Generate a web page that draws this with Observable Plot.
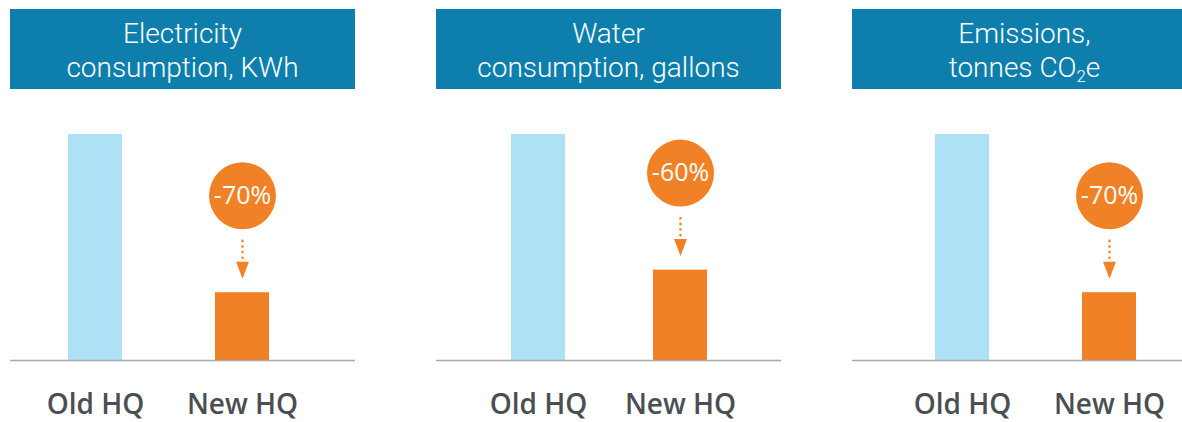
<!DOCTYPE html>
<html>
<head>
<meta charset="utf-8">
<script src="https://cdn.jsdelivr.net/npm/d3@7"></script>
<script src="https://cdn.jsdelivr.net/npm/@observablehq/plot@0.6"></script>
<style>
  html, body { margin: 0; padding: 0; background: #fff; }
  #chart { position: relative; width: 1182px; height: 422px; overflow: hidden; font-family: "Open Sans", sans-serif; }
  .panel { position: absolute; top: 0; width: 345px; height: 422px; }
  .header { position: absolute; top: 9px; left: 0; width: 345px; height: 80px; box-sizing: border-box; padding-top: 3px;
            background: #0e7fad;
            color: #fff; font-family: Roboto, "Open Sans", sans-serif; font-weight: 300; font-size: 28px;
            line-height: 34px; text-align: center;
            display: flex; align-items: center; justify-content: center; }
  .header sub { font-size: 60%; line-height: 0; vertical-align: -0.3em; }
  .plot { position: absolute; top: 89px; left: 0; }
</style>
</head>
<body>
<div id="chart"></div>
<script>
// ---- data ----
const metricTitles = ["Electricity<br>consumption, KWh", "Water<br>consumption, gallons", "Emissions,<br>tonnes CO<sub>2</sub>e"];
const sites = ["Old HQ", "New HQ"];
const oldValues = [100, 100, 100];
const newValues = [30, 40, 30];
const changeLabels = ["-70%", "-60%", "-70%"];

// ---- layout (per panel) ----
const panelLeft = [10, 436, 852];
const panelMargins = [
  {ml: 57, mr: 86, pad: 0.635},
  {ml: 75, mr: 74, pad: 0.62},
  {ml: 82, mr: 61, pad: 0.635}
];

const lightBlue = "#aee0f6";
const orange = "#f18126";
const grey = "#a6a8ab";

// downward-pointing triangle symbol
const triDown = {
  draw(context, size) {
    const r = Math.sqrt(size / Math.PI);
    context.moveTo(-0.76 * r, -r);
    context.lineTo(0.76 * r, -r);
    context.lineTo(0, r);
    context.closePath();
  }
};
// straight line shape for the dotted connector
const lineShape = {
  draw(context, l) {
    context.moveTo(0, 0);
    context.lineTo(0, -l);
  }
};

const chart = document.getElementById("chart");

metricTitles.forEach((title, k) => {
  const panel = document.createElement("div");
  panel.className = "panel";
  panel.style.left = panelLeft[k] + "px";
  const header = document.createElement("div");
  header.className = "header";
  header.innerHTML = "<div>" + title + "</div>";
  panel.appendChild(header);

  const rows = [
    {site: sites[0], value: oldValues[k]},
    {site: sites[1], value: newValues[k]}
  ];
  const newRow = [{site: sites[1], value: newValues[k], label: changeLabels[k]}];
  const m = panelMargins[k];

  const plot = Plot.plot({
    width: 345,
    height: 333,
    marginTop: 45,
    marginBottom: 62,
    marginLeft: m.ml,
    marginRight: m.mr,
    style: {fontFamily: "Open Sans, sans-serif", color: "#4b4e53", background: "transparent", overflow: "visible"},
    x: {domain: sites, paddingInner: m.pad, paddingOuter: 0},
    y: {domain: [0, 100], axis: null},
    marks: [
      Plot.barY(rows, {x: "site", y: "value", fill: (d) => d.site === sites[0] ? lightBlue : orange}),
      Plot.ruleY([0], {stroke: grey, strokeWidth: 1.5, insetLeft: -m.ml, insetRight: -m.mr}),
      Plot.vector(newRow, {x: "site", y: "value", length: 22, rotate: 0, anchor: "start", dy: -35,
        shape: lineShape, stroke: orange, strokeWidth: 2.6, strokeDasharray: "0 5.6", strokeLinecap: "round"}),
      Plot.dot(newRow, {x: "site", y: "value", symbol: triDown, r: 8.5, dy: -22.5, fill: orange, stroke: null}),
      Plot.dot(newRow, {x: "site", y: "value", r: 33.5, dy: -97, fill: orange, stroke: null}),
      Plot.text(newRow, {x: "site", y: "value", text: "label", dy: -97, fill: "#fff", fontSize: 25, fontWeight: 500}),
      Plot.axisX({tickSize: 0, tickPadding: 34, fontSize: 28, fontWeight: 600, label: null})
    ]
  });
  plot.classList.add("plot");
  panel.appendChild(plot);
  chart.appendChild(panel);
});
</script>
</body>
</html>
